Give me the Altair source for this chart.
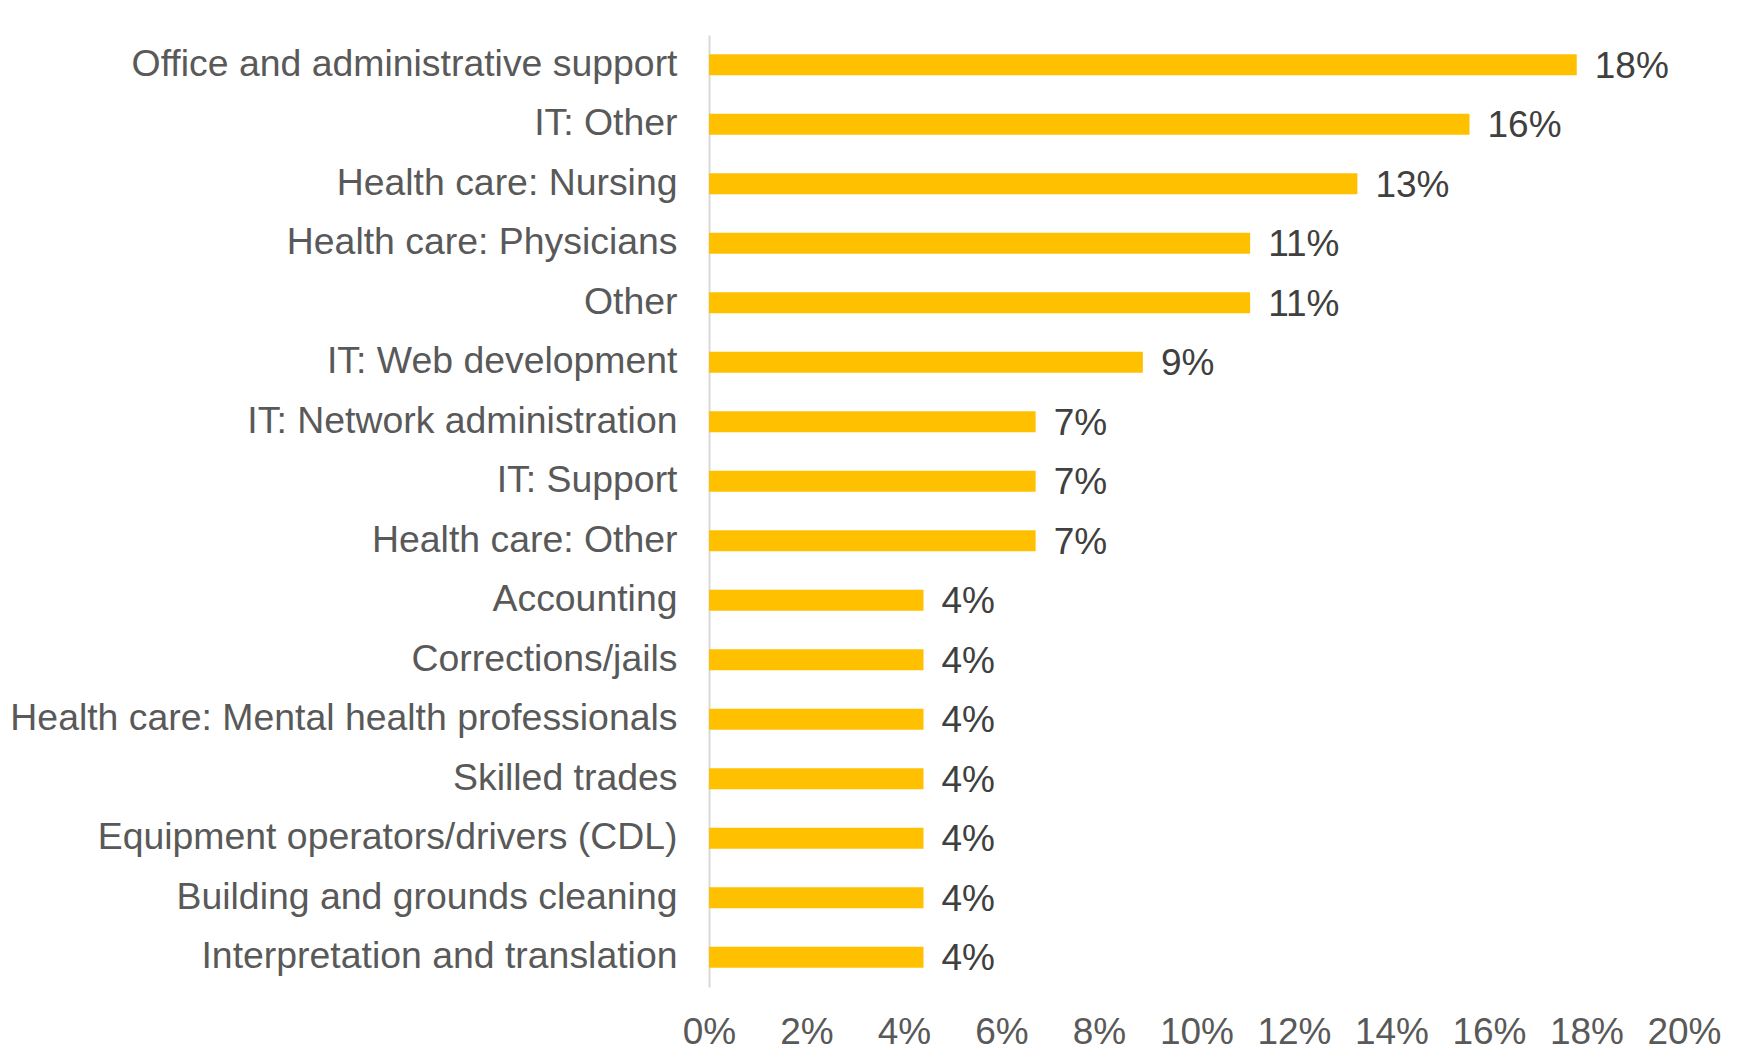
import altair as alt
import pandas as pd

categories = [
    "Office and administrative support",
    "IT: Other",
    "Health care: Nursing",
    "Health care: Physicians",
    "Other",
    "IT: Web development",
    "IT: Network administration",
    "IT: Support",
    "Health care: Other",
    "Accounting",
    "Corrections/jails",
    "Health care: Mental health professionals",
    "Skilled trades",
    "Equipment operators/drivers (CDL)",
    "Building and grounds cleaning",
    "Interpretation and translation",
]
values = [0.178, 0.156, 0.133, 0.111, 0.111, 0.089, 0.067, 0.067, 0.067,
          0.044, 0.044, 0.044, 0.044, 0.044, 0.044, 0.044]
x_ticks = [0, 0.02, 0.04, 0.06, 0.08, 0.10, 0.12, 0.14, 0.16, 0.18, 0.20]

df = pd.DataFrame({"category": categories, "value": values})

FONT = "Liberation Sans"

y_enc = alt.Y(
    "category:N",
    sort=categories,
    scale=alt.Scale(paddingInner=0.65, paddingOuter=0.325),
    axis=alt.Axis(
        title=None,
        ticks=False,
        domain=True,
        domainColor="#D9D9D9",
        domainWidth=2,
        labelFont=FONT,
        labelFontSize=37.4,
        labelColor="#595959",
        labelPadding=32,
        labelLimit=0,
    ),
)

x_enc = alt.X(
    "value:Q",
    scale=alt.Scale(domain=[0, 0.2], nice=False, zero=True),
    axis=alt.Axis(
        title=None,
        values=x_ticks,
        format=".0%",
        grid=False,
        domain=False,
        ticks=False,
        labelFont=FONT,
        labelFontSize=37,
        labelColor="#595959",
        labelPadding=27,
        labelFlush=False,
    ),
)

bars = alt.Chart(df).mark_bar(color="#FFC000").encode(x=x_enc, y=y_enc)

text = alt.Chart(df).mark_text(
    align="left",
    baseline="middle",
    dx=18,
    dy=2,
    font=FONT,
    fontSize=37,
    color="#404040",
).encode(
    x="value:Q",
    y=alt.Y("category:N", sort=categories),
    text=alt.Text("value:Q", format=".0%"),
)

chart = (
    alt.layer(bars, text)
    .properties(
        width=975,
        height=952,
        autosize=alt.AutoSizeParams(type="none"),
        padding={"left": 701, "top": 27, "right": 50, "bottom": 60},
        background="white",
    )
    .configure_view(stroke=None)
)

chart.save("out.html", embed_options={"renderer": "svg", "actions": False})
